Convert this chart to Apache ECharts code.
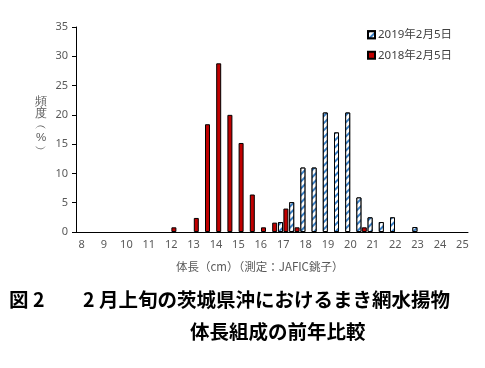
<!DOCTYPE html>
<html><head><meta charset="utf-8">
<script src="https://cdn.jsdelivr.net/npm/echarts@6/dist/echarts.min.js"></script>
<style>html,body{margin:0;padding:0;background:#fff}#c{width:485px;height:368px}</style>
</head><body><div id="c"></div>
<script>
const categories = ['8','8.5','9','9.5','10','10.5','11','11.5','12','12.5','13','13.5','14','14.5','15','15.5','16','16.5','17','17.5','18','18.5','19','19.5','20','20.5','21','21.5','22','22.5','23','23.5','24','24.5','25'];
const seriesNames = ['2019年2月5日','2018年2月5日'];
const val2019 = [null,null,null,null,null,null,null,null,null,null,null,null,null,null,null,null,null,null,1.7,5.1,11.0,11.0,20.4,17.0,20.4,5.9,2.5,1.7,2.5,null,0.85,null,null,null,null];
const val2018 = [null,null,null,null,null,null,null,null,0.8,null,2.4,18.4,28.8,20.0,15.2,6.4,0.8,1.6,4.0,0.8,null,null,null,null,null,0.8,null,null,null,null,null,null,null,null,null];
const yTicks = {min:0, max:35, interval:5};
const xAxisTitle = '体長（cm）（測定：JAFIC銚子）';
const yAxisTitle = '頻\n度\n︵\n%\n︶';
const titleLine1a = '図 2';
const titleLine1b = '2 月上旬の茨城県沖におけるまき網水揚物';
const titleLine2 = '体長組成の前年比較';

const FONT = "'Noto Sans','Noto Sans CJK JP',sans-serif";
const chart = echarts.init(document.getElementById('c'), null, {renderer:'canvas'});
chart.setOption({
  animation:false,
  backgroundColor:'#fff',
  textStyle:{fontFamily:FONT},
  grid:{left:76, right:17, top:27, bottom:136},
  legend:{
    orient:'vertical', left:367, top:29, padding:0, itemWidth:7, itemHeight:7, itemGap:9,
    icon:'rect',
    textStyle:{fontSize:11.5, color:'#404040', fontFamily:FONT, padding:[0,0,0,-2]},
    data:seriesNames
  },
  xAxis:{
    type:'category', data:categories, boundaryGap:true,
    axisLine:{lineStyle:{color:'#000', width:1}},
    axisTick:{interval:0, length:4, lineStyle:{color:'#000'}},
    axisLabel:{interval:1, fontSize:11, color:'#595959', margin:7, fontFamily:FONT}
  },
  yAxis:{
    type:'value', min:yTicks.min, max:yTicks.max, interval:yTicks.interval,
    splitLine:{show:false},
    axisLine:{show:true, lineStyle:{color:'#000', width:1}},
    axisTick:{show:true, length:4, lineStyle:{color:'#000'}},
    axisLabel:{fontSize:11, color:'#595959', margin:8, fontFamily:FONT}
  },
  series:[
    {name:seriesNames[0], type:'bar', data:val2019, barWidth:5, barGap:'8%',
     itemStyle:{color:'#ffffff', borderColor:'#000', borderWidth:1,
       decal:{symbol:'rect', symbolSize:1, dashArrayX:[[1,0]], dashArrayY:[2,3], rotation:-Math.PI/4, color:'#3a7fc4', backgroundColor:'#ffffff'}}},
    {name:seriesNames[1], type:'bar', data:val2018, barWidth:5,
     itemStyle:{color:'#C00000', borderColor:'#000', borderWidth:1}}
  ],
  graphic:[
    {type:'text', left:35, top:96, style:{text:yAxisTitle, fontSize:11.5, lineHeight:12, fill:'#595959', font:"11.5px 'Noto Sans CJK JP'", textAlign:'center'}},
    {type:'text', left:176, top:261, style:{text:xAxisTitle, fill:'#595959', font:"11.5px 'Noto Sans CJK JP'"}},
    {type:'text', left:9, top:290, style:{text:titleLine1a, fill:'#000', font:"bold 19.5px 'Noto Sans CJK JP'"}},
    {type:'text', left:83, top:290, style:{text:titleLine1b, fill:'#000', font:"bold 19.5px 'Noto Sans CJK JP'"}},
    {type:'text', left:190, top:322, style:{text:titleLine2, fill:'#000', font:"bold 19.5px 'Noto Sans CJK JP'"}}
  ]
});
</script></body></html>
